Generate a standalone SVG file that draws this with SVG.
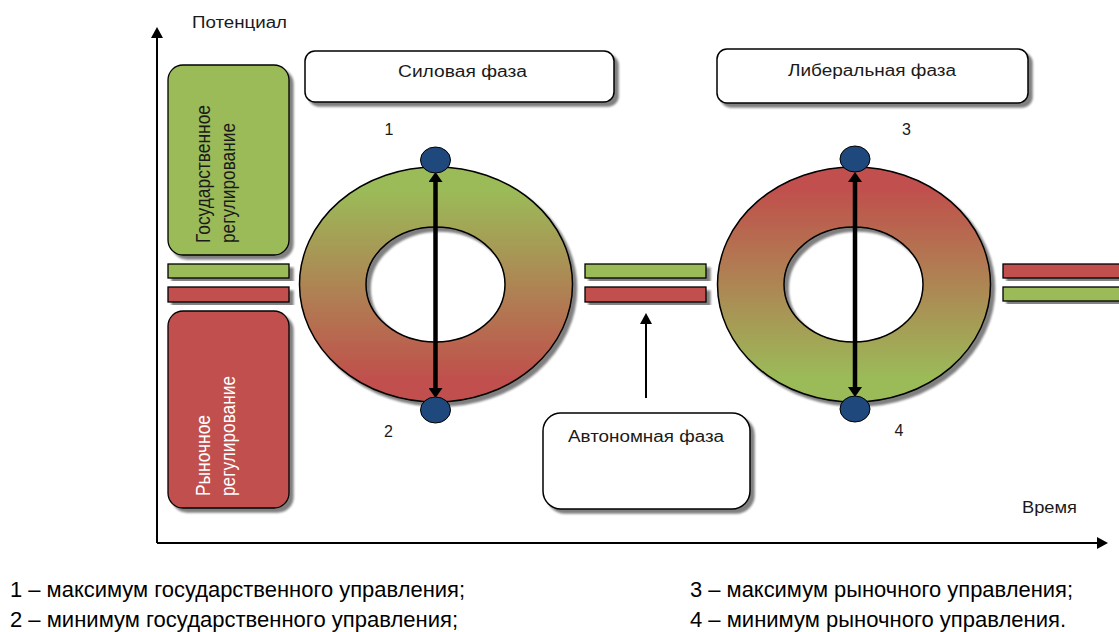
<svg xmlns="http://www.w3.org/2000/svg" width="1119" height="632" viewBox="0 0 1119 632">
<style>
text{font-family:"Liberation Sans",Arial,sans-serif;fill:#1a1a1a}
.lbl{font-size:16px}
.num{font-size:16px}
.leg{font-size:22px;fill:#000}
.vt{font-size:17px}
.box{fill:#fff;stroke:#000;stroke-width:1.5}
.g{fill:#9BBB59;stroke:#000;stroke-width:1.3}
.r{fill:#C0504D;stroke:#000;stroke-width:1.3}
.dot{fill:#1F497D;stroke:#000;stroke-width:1}
.ring{stroke:#000;stroke-width:1.5;fill-rule:evenodd}
.axis{stroke:#000;stroke-width:2;fill:none}
</style>
<defs>
<filter id="sh" x="-10%" y="-10%" width="130%" height="130%">
<feGaussianBlur in="SourceAlpha" stdDeviation="1.2"/>
<feOffset dx="4" dy="4" result="o"/>
<feComponentTransfer><feFuncA type="linear" slope="0.5"/></feComponentTransfer>
<feMerge><feMergeNode/><feMergeNode in="SourceGraphic"/></feMerge>
</filter>
<linearGradient id="gr1" x1="0" y1="0" x2="0" y2="1">
<stop offset="0.1" stop-color="#9BBB59"/>
<stop offset="0.9" stop-color="#C0504D"/>
</linearGradient>
<linearGradient id="gr2" x1="0" y1="0" x2="0" y2="1">
<stop offset="0.1" stop-color="#C0504D"/>
<stop offset="0.9" stop-color="#9BBB59"/>
</linearGradient>
<marker id="ab" viewBox="0 0 10 14" markerWidth="10" markerHeight="14" refX="1" refY="7" orient="auto-start-reverse" markerUnits="userSpaceOnUse">
<path d="M0,0 L10,7 L0,14 z" fill="#000"/>
</marker>
<marker id="as" viewBox="0 0 11 12" markerWidth="11" markerHeight="12" refX="1" refY="6" orient="auto-start-reverse" markerUnits="userSpaceOnUse">
<path d="M0,0 L11,6 L0,12 z" fill="#000"/>
</marker>
</defs>
<rect width="1119" height="632" fill="#fff"/>

<g id="axes">
<line class="axis" x1="157" y1="543" x2="1098" y2="543" marker-end="url(#as)"/>
<line class="axis" x1="157" y1="543" x2="157" y2="37" marker-end="url(#as)"/>
<text class="lbl" x="192" y="28" textLength="95" lengthAdjust="spacingAndGlyphs">Потенциал</text>
<text class="lbl" x="1022" y="513" textLength="55" lengthAdjust="spacingAndGlyphs">Время</text>
</g>

<g id="state-regulation">
<rect class="g" x="168" y="65" width="121" height="190" rx="15" filter="url(#sh)"/>
<text class="vt" transform="matrix(0,-1,1.2,0,210,243)" textLength="138" lengthAdjust="spacingAndGlyphs">Государственное</text>
<text class="vt" transform="matrix(0,-1,1.2,0,235,243)" textLength="120" lengthAdjust="spacingAndGlyphs">регулирование</text>
</g>

<g id="market-regulation">
<rect class="r" x="168" y="311" width="121" height="197" rx="15" filter="url(#sh)"/>
<text class="vt" style="fill:#fff" transform="matrix(0,-1,1.2,0,210,496)" textLength="81" lengthAdjust="spacingAndGlyphs">Рыночное</text>
<text class="vt" style="fill:#fff" transform="matrix(0,-1,1.2,0,235,496)" textLength="120" lengthAdjust="spacingAndGlyphs">регулирование</text>
</g>

<g id="bars-left">
<rect class="g" x="168" y="264" width="121" height="14" filter="url(#sh)"/>
<rect class="r" x="168" y="287" width="121" height="15" filter="url(#sh)"/>
</g>
<g id="bars-middle">
<rect class="g" x="585" y="264" width="121" height="14" filter="url(#sh)"/>
<rect class="r" x="585" y="287" width="121" height="15" filter="url(#sh)"/>
</g>
<g id="bars-right">
<rect class="r" x="1003" y="264" width="125" height="14" filter="url(#sh)"/>
<rect class="g" x="1003" y="287" width="125" height="14" filter="url(#sh)"/>
</g>

<g id="phase-force">
<rect class="box" x="305" y="51" width="309" height="51" rx="10" filter="url(#sh)"/>
<text class="lbl" x="398" y="77" textLength="129" lengthAdjust="spacingAndGlyphs">Силовая фаза</text>
</g>
<g id="phase-liberal">
<rect class="box" x="717" y="49" width="311" height="54" rx="10" filter="url(#sh)"/>
<text class="lbl" x="788" y="76" textLength="168" lengthAdjust="spacingAndGlyphs">Либеральная фаза</text>
</g>
<g id="phase-autonomous">
<rect class="box" x="543" y="413" width="207" height="96" rx="18" filter="url(#sh)"/>
<text class="lbl" x="568" y="442" textLength="156" lengthAdjust="spacingAndGlyphs">Автономная фаза</text>
</g>

<g id="ring-1">
<path class="ring" fill="url(#gr1)" filter="url(#sh)" d="M299.5 284.5a136.5 117.5 0 1 0 273 0a136.5 117.5 0 1 0 -273 0Z M366 284.5a69.5 57.5 0 1 0 139 0a69.5 57.5 0 1 0 -139 0Z"/>
</g>
<g id="ring-2">
<path class="ring" fill="url(#gr2)" filter="url(#sh)" d="M717.5 284.5a136.5 117.5 0 1 0 273 0a136.5 117.5 0 1 0 -273 0Z M784 284.5a69.5 57.5 0 1 0 139 0a69.5 57.5 0 1 0 -139 0Z"/>
</g>

<g id="connectors">
<line x1="435.5" y1="181" x2="435.5" y2="389" stroke="#000" stroke-width="4.5" marker-start="url(#ab)" marker-end="url(#ab)"/>
<line x1="855" y1="181" x2="855" y2="388" stroke="#000" stroke-width="4.5" marker-start="url(#ab)" marker-end="url(#ab)"/>
<line x1="646" y1="398" x2="646" y2="323" stroke="#000" stroke-width="2" marker-end="url(#as)"/>
</g>

<g id="point-1">
<ellipse class="dot" cx="435.5" cy="160" rx="15" ry="13"/>
<text class="num" x="389" y="135" text-anchor="middle">1</text>
</g>
<g id="point-2">
<ellipse class="dot" cx="435.5" cy="410" rx="15" ry="13"/>
<text class="num" x="388.5" y="437" text-anchor="middle">2</text>
</g>
<g id="point-3">
<ellipse class="dot" cx="855" cy="159" rx="15" ry="13"/>
<text class="num" x="906.5" y="135" text-anchor="middle">3</text>
</g>
<g id="point-4">
<ellipse class="dot" cx="855" cy="409" rx="15" ry="13"/>
<text class="num" x="899" y="436" text-anchor="middle">4</text>
</g>

<g id="legend">
<text class="leg" x="10" y="597" textLength="455" lengthAdjust="spacingAndGlyphs">1 – максимум государственного управления;</text>
<text class="leg" x="10" y="627" textLength="448" lengthAdjust="spacingAndGlyphs">2 – минимум государственного управления;</text>
<text class="leg" x="690" y="597" textLength="383" lengthAdjust="spacingAndGlyphs">3 – максимум рыночного управления;</text>
<text class="leg" x="690" y="627" textLength="376" lengthAdjust="spacingAndGlyphs">4 – минимум рыночного управления.</text>
</g>
</svg>
